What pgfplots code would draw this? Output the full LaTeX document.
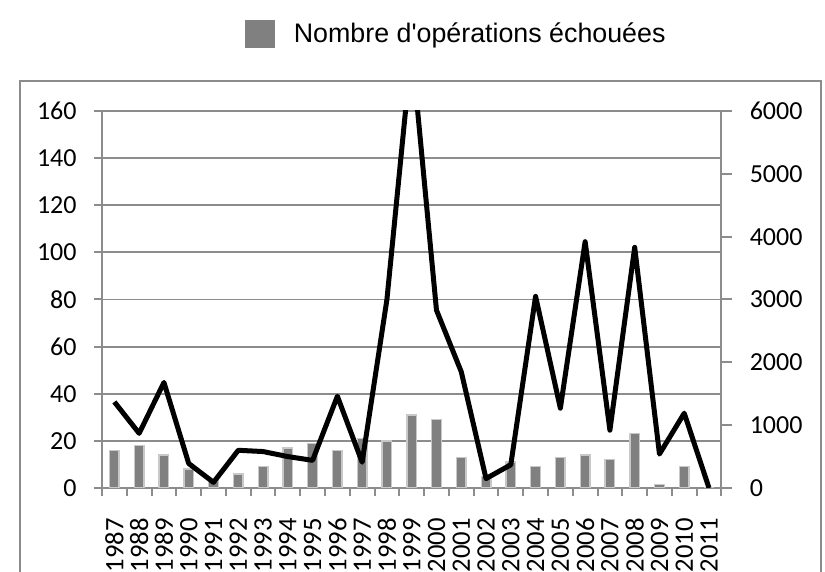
\documentclass[border=0pt]{standalone}
\usepackage{pgfplots}
\pgfplotsset{compat=1.18}
\usepackage{fontspec}
\setmainfont{Carlito}
\newfontfamily\legendfont{Liberation Sans}
\definecolor{barfill}{RGB}{128,128,128}
\definecolor{baredge}{RGB}{200,200,200}
\definecolor{gridc}{RGB}{140,140,140}
\begin{document}
\begin{tikzpicture}
\useasboundingbox (0,0) rectangle (412.5pt,286pt);
\draw[gridc,line width=1pt] (10pt,-5pt) -- (10pt,245.5pt) -- (410.5pt,245.5pt) -- (410.5pt,-5pt);
\begin{axis}[
  at={(51pt,42pt)}, anchor=south west,
  scale only axis, width=309.7pt, height=188.5pt,
  xmin=-0.5, xmax=24.5, ymin=0, ymax=160,
  axis x line*=bottom, axis y line*=left,
  axis line style={gridc,line width=1pt},
  ytick={0,20,...,160},
  ymajorgrids, grid style={gridc,line width=0.9pt},
  xtick={0,...,24},
  xticklabels={1987,1988,1989,1990,1991,1992,1993,1994,1995,1996,1997,1998,1999,2000,2001,2002,2003,2004,2005,2006,2007,2008,2009,2010,2011},
  major x tick style={draw=none},
  minor xtick={-0.5,0.5,...,24.5},
  minor x tick style={gridc,line width=1pt},
  minor tick length=4pt,
  major tick length=4pt,
  tick align=outside,
  y tick style={gridc,line width=1pt},
  tick label style={font=\fontsize{13}{15}\selectfont},
  /pgf/number format/assume math mode=true,
  yticklabel style={inner sep=0pt},
  yticklabel shift=8.5pt,
  xticklabel style={rotate=90, anchor=east, inner sep=0pt, font=\fontsize{13.3}{15}\selectfont},
  xticklabel shift=11pt,
  legend style={at={(0.231,1.204)}, anchor=west, draw=none, fill=none,
    inner sep=0pt, font=\legendfont\fontsize{13.4}{15}\selectfont,
    nodes={inner sep=0pt}, /tikz/every odd column/.append style={column sep=9.5pt}},
  legend image code/.code={\fill[barfill] (0pt,-6.5pt) rectangle (14pt,6.5pt);},
  clip=true,
]
\addplot[ybar, bar width=4.8pt, fill=barfill, draw=baredge, line width=0.7pt]
  coordinates {(0,16) (1,18) (2,14) (3,8) (4,3) (5,6) (6,9) (7,17) (8,19) (9,16) (10,21) (11,20) (12,31) (13,29) (14,13) (15,5) (16,11) (17,9) (18,13) (19,14) (20,12) (21,23) (22,1.5) (23,9) (24,0)};
\addlegendentry{Nombre d'op\'erations \'echou\'ees}
\end{axis}
\begin{axis}[
  at={(51pt,42pt)}, anchor=south west,
  scale only axis, width=309.7pt, height=188.5pt,
  xmin=-0.5, xmax=24.5, ymin=0, ymax=6000,
  axis x line=none, axis y line*=right,
  axis line style={gridc,line width=1pt},
  ytick={0,1000,...,6000},
  major tick length=5.5pt, tick align=outside,
  y tick style={gridc,line width=1pt},
  tick label style={font=\fontsize{13}{15}\selectfont},
  /pgf/number format/assume math mode=true,
  /pgf/number format/1000 sep={},
  yticklabel style={inner sep=0pt},
  yticklabel shift=8.5pt,
  clip=true,
]
\addplot[black, line width=2.5pt, line join=round, mark=none]
  coordinates {(0,1370) (1,870) (2,1680) (3,390) (4,90) (5,600) (6,580) (7,500) (8,440) (9,1460) (10,410) (11,3000) (12,7000) (13,2830) (14,1850) (15,150) (16,370) (17,3050) (18,1270) (19,3920) (20,920) (21,3830) (22,540) (23,1190) (24,0)};
\end{axis}
\end{tikzpicture}
\end{document}
